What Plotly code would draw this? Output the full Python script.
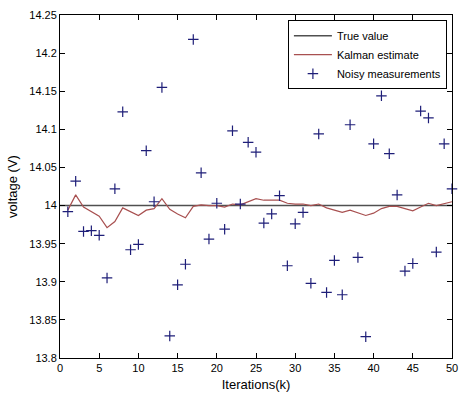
import plotly.graph_objects as go

iterations = list(range(1, 51))
true_value = 14.0
true_iterations = list(range(0, 51))

measurements = [13.992, 14.032, 13.966, 13.967, 13.961, 13.905, 14.022, 14.123, 13.942, 13.949,
                14.072, 14.005, 14.155, 13.829, 13.896, 13.923, 14.218, 14.043, 13.956, 14.003,
                13.969, 14.098, 14.002, 14.083, 14.070, 13.977, 13.989, 14.013, 13.921, 13.976,
                13.991, 13.898, 14.094, 13.886, 13.928, 13.883, 14.106, 13.932, 13.828, 14.081,
                14.144, 14.068, 14.014, 13.914, 13.924, 14.124, 14.115, 13.939, 14.081, 14.022]

kalman = [13.994, 14.014, 13.998, 13.992, 13.986, 13.971, 13.979, 13.997, 13.992, 13.987,
          13.994, 13.996, 14.009, 13.995, 13.989, 13.984, 13.999, 14.001, 14.000, 14.000,
          13.998, 14.002, 14.001, 14.005, 14.009, 14.007, 14.007, 14.007, 14.003, 14.002,
          14.002, 14.000, 14.002, 13.997, 13.994, 13.991, 13.994, 13.991, 13.987, 13.990,
          13.996, 13.999, 13.999, 13.996, 13.993, 13.998, 14.003, 14.000, 14.003, 14.005]

x_ticks = [0, 5, 10, 15, 20, 25, 30, 35, 40, 45, 50]
y_ticks = [13.8, 13.85, 13.9, 13.95, 14.0, 14.05, 14.1, 14.15, 14.2, 14.25]
y_tick_labels = ["13.8", "13.85", "13.9", "13.95", "14", "14.05", "14.1", "14.15", "14.2", "14.25"]

fig = go.Figure()
fig.add_trace(go.Scatter(x=true_iterations, y=[true_value] * len(true_iterations),
                         mode="lines", name="True value",
                         line=dict(color="#505050", width=1.5)))
fig.add_trace(go.Scatter(x=iterations, y=kalman, mode="lines", name="Kalman estimate",
                         line=dict(color="#a85050", width=1.2)))
fig.add_trace(go.Scatter(x=iterations, y=measurements, mode="markers", name="Noisy measurements",
                         cliponaxis=False,
                         marker=dict(symbol="cross-thin-open", size=7.5, color="#1e1e78",
                                     line=dict(color="#1e1e78", width=1.2))))

font = dict(family="Liberation Sans, Arial, sans-serif", size=11, color="#000000")
fig.update_layout(
    width=463, height=394,
    margin=dict(l=60, r=5, t=15, b=36),
    paper_bgcolor="white", plot_bgcolor="white",
    font=font,
    showlegend=True,
    legend=dict(x=0.987, xanchor="right", y=0.985, yanchor="top",
                bordercolor="#000000", borderwidth=1, bgcolor="white",
                font=dict(family="Liberation Sans, Arial, sans-serif", size=11),
                tracegroupgap=0, itemwidth=38),
)
fig.update_xaxes(range=[0, 50], tickvals=x_ticks, ticks="inside", ticklen=5,
                 showline=True, linecolor="black", linewidth=1, mirror="ticks",
                 showgrid=False, zeroline=False, tickcolor="black",
                 ticklabeloverflow="allow",
                 title=dict(text="Iterations(k)", standoff=6))
fig.update_yaxes(range=[13.8, 14.25], tickvals=y_ticks, ticktext=y_tick_labels,
                 ticks="inside", ticklen=5,
                 showline=True, linecolor="black", linewidth=1, mirror="ticks",
                 showgrid=False, zeroline=False, tickcolor="black",
                 title=dict(text="voltage (V)", standoff=8))

fig.write_html("out.html")
